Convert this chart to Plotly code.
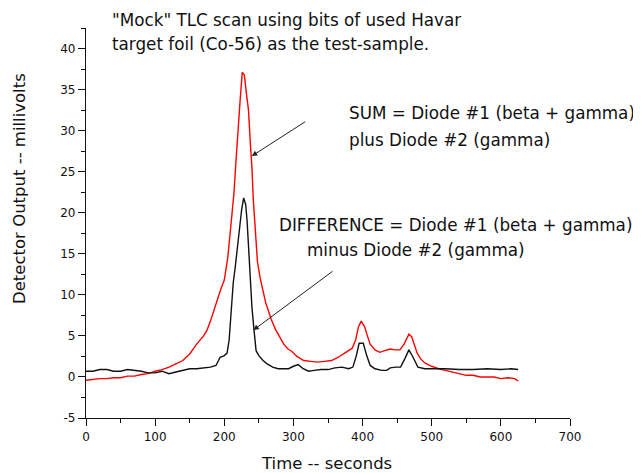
import plotly.graph_objects as go

# SUM curve (red): Diode #1 + Diode #2
sum_t = [0, 10, 20, 30, 40, 50, 60, 70, 80, 90, 100, 110, 120, 130, 140, 150, 160, 170, 175,
         180, 185, 190, 195, 200, 205, 208, 211, 214, 217, 220, 223, 226, 229, 232, 235, 238,
         240, 242, 245, 248, 252, 256, 260, 264, 268, 274, 280, 286, 292, 298, 305, 315, 325,
         335, 345, 355, 365, 375, 385, 390, 394, 398, 403, 407, 411, 418, 425, 432, 440, 447,
         454, 460, 464, 467, 471, 475, 479, 484, 490, 500, 510, 520, 530, 540, 550, 560, 570,
         580, 590, 600, 610, 620, 625]
sum_mv = [-0.4, -0.3, -0.2, -0.2, -0.1, -0.1, 0.1, 0.1, 0.3, 0.4, 0.7, 0.9, 1.2, 1.6, 2.0, 2.8,
          4.0, 5.0, 5.7, 6.8, 8.1, 9.5, 10.7, 11.8, 14.5, 17.1, 19.5, 22.4, 26.4, 30.5, 33.8,
          37.1, 36.8, 34.5, 32.5, 28.0, 25.5, 21.5, 17.0, 14.0, 12.0, 10.5, 9.0, 8.0, 7.0, 5.8,
          4.9, 4.0, 3.4, 3.1, 2.5, 2.0, 1.9, 1.8, 1.9, 2.0, 2.4, 2.9, 3.5, 4.5, 6.1, 6.8, 6.1,
          5.0, 4.0, 3.3, 3.0, 3.2, 3.4, 3.3, 3.3, 4.0, 4.8, 5.2, 4.9, 4.0, 2.9, 2.2, 1.7, 1.3,
          1.0, 0.8, 0.6, 0.4, 0.2, 0.2, 0.0, 0.0, 0.0, -0.2, -0.1, -0.2, -0.5]

# DIFFERENCE curve (black): Diode #1 - Diode #2
diff_t = [0, 10, 20, 30, 40, 50, 60, 70, 80, 90, 100, 110, 120, 130, 140, 150, 160, 170, 180,
          188, 194, 200, 204, 207, 210, 213, 216, 219, 222, 225, 228, 231, 233, 235, 237, 240,
          243, 246, 250, 256, 262, 270, 278, 286, 293, 300, 307, 314, 322, 330, 340, 350, 360,
          370, 380, 386, 391, 395, 401, 406, 411, 418, 428, 435, 440, 448, 455, 461, 467, 473,
          480, 490, 500, 520, 540, 560, 580, 600, 615, 625]
diff_mv = [0.7, 0.7, 0.9, 0.9, 0.7, 0.7, 0.9, 0.8, 0.7, 0.5, 0.5, 0.7, 0.4, 0.6, 0.8, 1.0, 1.0,
           1.1, 1.2, 1.4, 2.4, 2.6, 2.9, 4.5, 8.1, 11.5, 13.5, 16.0, 18.5, 20.3, 21.8, 21.0,
           19.0, 16.0, 12.2, 8.5, 5.7, 3.2, 2.6, 2.0, 1.6, 1.2, 1.0, 1.0, 1.0, 1.3, 1.5, 1.0,
           0.7, 0.8, 0.9, 0.9, 1.1, 1.2, 1.0, 1.2, 2.6, 4.1, 4.1, 2.6, 1.4, 1.0, 0.8, 0.8, 1.1,
           1.2, 1.2, 2.2, 3.3, 2.4, 1.2, 1.0, 1.0, 1.0, 0.9, 0.9, 1.0, 0.9, 1.0, 0.9]

x_ticks = [0, 100, 200, 300, 400, 500, 600, 700]
x_tick_labels = ["0", "100", "200", "300", "400", "500", "600", "700"]
y_ticks = [-5, 0, 5, 10, 15, 20, 25, 30, 35, 40]
y_tick_labels = ["-5", "0", "5", "10", "15", "20", "25", "30", "35", "40"]

FONT = "DejaVu Sans, Verdana, sans-serif"
TXT = "#111111"

fig = go.Figure()
fig.add_trace(go.Scatter(x=sum_t, y=sum_mv, mode="lines",
                         line=dict(color="#ff0000", width=1.4), showlegend=False))
fig.add_trace(go.Scatter(x=diff_t, y=diff_mv, mode="lines",
                         line=dict(color="#111111", width=1.4), showlegend=False))

# page offset of the figure (default body margin) and plot area in screen pixels
OFF = 8
W, H = 641, 473
L, R, T, B = 86, 570, 28, 418


def px(xs):
    return (xs - L) / (R - L)


def py(ys):
    return (B - ys) / (B - T)


texts = [
    ("\"Mock\" TLC scan using bits of used Havar", 110, 20),
    ("target foil (Co-56) as the test-sample.", 110, 44),
    ("SUM = Diode #1 (beta + gamma)", 347, 113),
    ("plus Diode #2 (gamma)", 347, 140),
    ("DIFFERENCE = Diode #1 (beta + gamma)", 277, 225),
    ("minus Diode #2 (gamma)", 305, 250),
]
annotations = []
for t, xs, ys in texts:
    annotations.append(dict(text=t, xref="paper", yref="paper", x=px(xs), y=py(ys),
                            xanchor="left", yanchor="middle", showarrow=False,
                            font=dict(family=FONT, size=16.8, color=TXT)))

# arrows (data coordinates)
arrows = [((319.2, 31.2), (239.7, 26.9)), ((358.7, 13.0), (242.0, 5.7))]
for (tx, ty), (hx, hy) in arrows:
    annotations.append(dict(x=hx, y=hy, ax=tx, ay=ty, xref="x", yref="y", axref="x", ayref="y",
                            text="", showarrow=True, arrowhead=2, arrowsize=1.1,
                            arrowwidth=1, arrowcolor="#222222"))

annotations.append(dict(text="Detector Output -- millivolts", xref="paper", yref="paper",
                        x=px(19), y=py(189), textangle=-90, showarrow=False,
                        xanchor="center", yanchor="middle",
                        font=dict(family=FONT, size=16.5, color=TXT)))
annotations.append(dict(text="Time -- seconds", xref="paper", yref="paper",
                        x=px(326), y=py(463), showarrow=False,
                        xanchor="center", yanchor="middle",
                        font=dict(family=FONT, size=16.5, color=TXT)))

axis_common = dict(showgrid=False, zeroline=False, showline=True, linecolor="#111111",
                   linewidth=1.3, ticks="outside", ticklen=7, tickwidth=1.3,
                   tickcolor="#111111", tickfont=dict(family=FONT, size=12, color=TXT))

fig.update_layout(
    width=W, height=H,
    margin=dict(l=L - OFF, r=W + OFF - R, t=T - OFF, b=H + OFF - B),
    paper_bgcolor="white", plot_bgcolor="white",
    xaxis=dict(range=[0, 700], tickvals=x_ticks, ticktext=x_tick_labels,
               minor=dict(dtick=50, ticks="outside", ticklen=4, tickwidth=1.3,
                          tickcolor="#111111"),
               **axis_common),
    yaxis=dict(range=[-5, 42.5], tickvals=y_ticks, ticktext=y_tick_labels,
               minor=dict(dtick=2.5, ticks="outside", ticklen=4, tickwidth=1.3,
                          tickcolor="#111111"),
               **axis_common),
    annotations=annotations,
)

fig.write_html("out.html")
